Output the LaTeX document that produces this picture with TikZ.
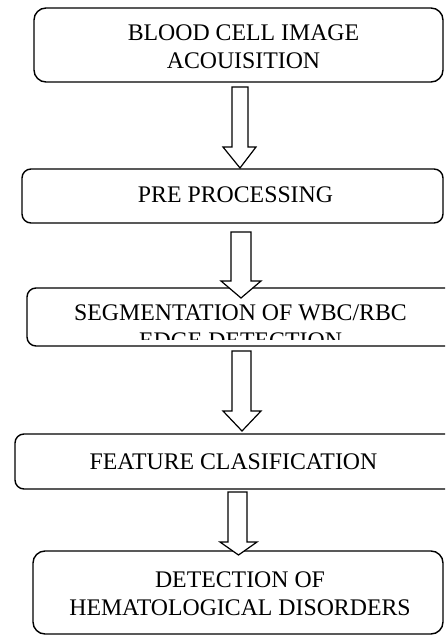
\documentclass[tikz,border=0pt]{standalone}
\usepackage{fontspec}
\setmainfont{Liberation Serif}
\begin{document}
\begin{tikzpicture}[x=1pt,y=-1pt,
  box/.style={draw, line width=1.4pt, rounded corners=#1, inner sep=0pt},
  box/.default=9pt,
  lbl/.style={align=center, inner sep=0pt, font=\fontsize{23.8}{28}\selectfont},
  blockarrow/.style={draw, fill=white, line width=1.2pt, line join=miter}]
\useasboundingbox (0,0) rectangle (445,636);
\clip (0,0) rectangle (445,636);
\fill[white] (0,0) rectangle (445,636);
% boxes
\node[box=12pt, minimum width=409pt, minimum height=74pt] (b1) at (238.5,45) {};
\node[box, minimum width=421pt, minimum height=54pt] (b2) at (232.5,196) {};
\node[box, minimum width=443pt, minimum height=58pt] (b3) at (248.5,317) {};
\node[box, minimum width=455pt, minimum height=55pt] (b4) at (242.5,461.5) {};
\node[box=12pt, minimum width=410pt, minimum height=83pt] (b5) at (238,592.5) {};
% labels
\node[lbl] (t1) at (243.5,47) {BLOOD CELL IMAGE\\ACOUISITION};
\node[lbl] (t2) at (235.5,194.5) {PRE PROCESSING};
\begin{scope}
\clip (0,288) rectangle (445,339);
\node[lbl] (t3) at (240.5,327) {SEGMENTATION OF WBC/RBC\\EDGE DETECTION};
\end{scope}
\node[lbl] (t4) at (233.5,461.5) {FEATURE CLASIFICATION};
\node[lbl] (t5) at (240,594) {DETECTION OF\\HEMATOLOGICAL DISORDERS};
% block arrows
\draw[blockarrow] (232,87) -- (248,87) -- (248,147) -- (256,147) -- (240,168) -- (223,147) -- (232,147) -- cycle;
\draw[blockarrow] (231,232) -- (251,232) -- (251,281) -- (261,281) -- (241,298) -- (221,281) -- (231,281) -- cycle;
\draw[blockarrow] (232,351) -- (251,351) -- (251,411) -- (261,411) -- (242,431) -- (223,411) -- (232,411) -- cycle;
\draw[blockarrow] (228,492) -- (247,492) -- (247,542) -- (257,542) -- (238.5,555) -- (220,542) -- (228,542) -- cycle;
\end{tikzpicture}
\end{document}
